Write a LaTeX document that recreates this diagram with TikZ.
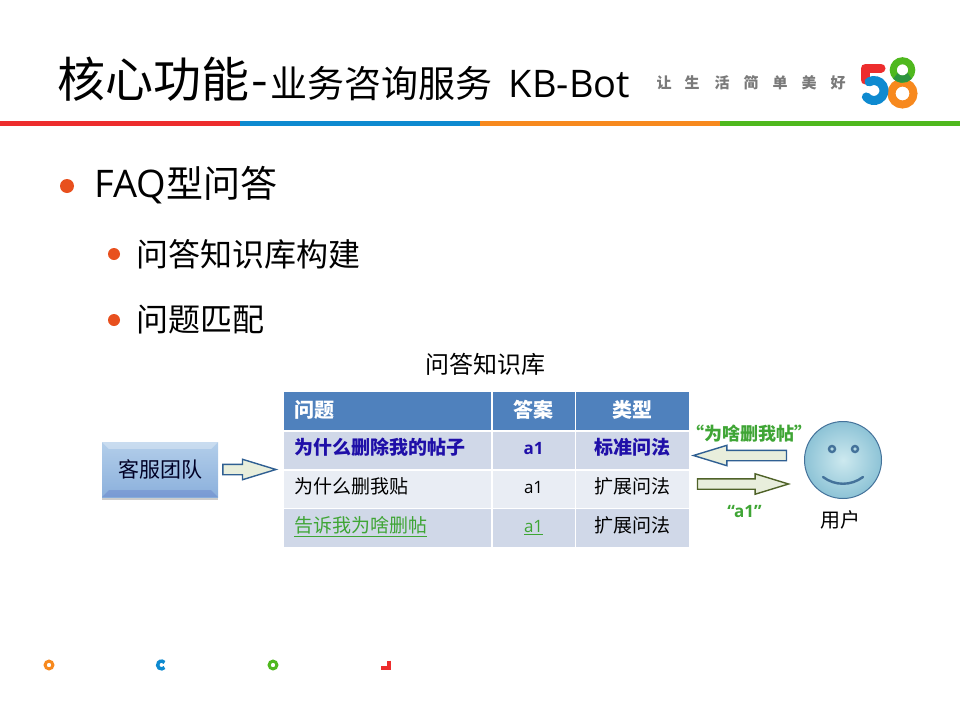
\documentclass[tikz,border=0pt]{standalone}
\usepackage{fontspec}
\setmainfont{Open Sans}
\newfontfamily\cjk{Noto Sans CJK SC}
\usepackage{tikz}
\usetikzlibrary{shapes, arrows, positioning, shadows}
\definecolor{lineRed}{HTML}{ED2D2D}
\definecolor{lineBlue}{HTML}{0E8AD0}
\definecolor{lineOrange}{HTML}{F7891E}
\definecolor{lineGreen}{HTML}{4FB81E}
\definecolor{lineDeep}{HTML}{2E9440}
\definecolor{dotRed}{HTML}{E8501E}
\definecolor{headBlue}{HTML}{4F81BD}
\definecolor{rowDark}{HTML}{D0D8E8}
\definecolor{rowLight}{HTML}{E9EDF4}
\definecolor{textNavy}{HTML}{1F0FA8}
\definecolor{textGreen}{HTML}{3FA535}
\definecolor{boxTop}{HTML}{B3CEEA}
\definecolor{boxBottom}{HTML}{8BB0DC}
\definecolor{faceIn}{HTML}{CDE9EF}
\definecolor{faceOut}{HTML}{8DC3D6}
\definecolor{faceLine}{HTML}{44729A}
\definecolor{arrowFill}{HTML}{E8EEDC}
\definecolor{arrowBlue}{HTML}{2F5F92}
\definecolor{arrowOlive}{HTML}{4F6228}
\newcommand{\fsize}[1]{\fontsize{#1}{#1}\selectfont}

\begin{document}
\begin{tikzpicture}[
    x=1pt, y=-1pt,
    heading/.style={anchor=west, inner sep=0pt, text=black},
    bulletdot/.style={circle, fill=dotRed, inner sep=0pt, minimum size=#1},
    slogan/.style={text=black!52, inner sep=0pt, font=\cjk\bfseries\fsize{15}},
    cell/.style={rectangle, inner sep=0pt, minimum height=37.5pt, text height=15pt, text depth=6pt, fill=rowDark, font=\cjk\fsize{19}},
    qcell/.style={cell, text width=187pt, inner xsep=10pt, align=left},
    acell/.style={cell, minimum width=82pt},
    tcell/.style={cell, minimum width=113pt},
    headcell/.style={fill=headBlue, text=white, minimum height=38pt, text height=17pt, text depth=5pt, font=\cjk\bfseries\fsize{20}},
    blockarrow/.style={single arrow, single arrow tip angle=34, single arrow head extend=5pt, single arrow head indent=0pt, inner xsep=0pt, inner ysep=4.5pt, minimum width=19pt, line width=1.4pt, fill=arrowFill},
    quote/.style={text=textGreen, inner sep=0pt, font=\cjk\bfseries\fsize{18}}
]
\useasboundingbox (0,0) rectangle (960,720);

% title and rule
\node[heading] (title) at (57,79) {\cjk\fsize{48}核心功能\hspace{2pt}-\hspace{3pt}\fsize{37}业务咨询服务\hspace{16pt}{\rmfamily\fsize{38}KB-Bot}};
\foreach \col/\xa in {lineRed/0, lineBlue/240, lineOrange/480, lineGreen/720}
    \fill[\col] (\xa,120.5) rectangle ++(240,5);

% slogan
\foreach \ch/\xa in {让/664, 生/692, 活/722, 简/751, 单/780, 美/809, 好/838}
    \node[slogan] at (\xa,83) {\ch};

% logo
\draw[lineRed, line width=9pt, line cap=round, line join=round] (881,68) -- (865,68) -- (865,80);
\draw[lineOrange, line width=8pt] (902.5,93.5) circle (11);
\draw[lineBlue, line width=9pt, line cap=round] (869,81.84) arc (-120:140:10);
\draw[lineGreen, line width=7pt] (902.5,70) circle (9.25);
\draw[lineDeep, line width=7pt] (909.6,75.9) arc (40:140:9.25);

% bullets
\node[bulletdot=14pt] (dotA) at (67,186) {};
\node[heading, right=20pt of dotA, yshift=1pt] (faq) {\fsize{38}FAQ{\cjk\fsize{37}型问答}};
\node[bulletdot=12pt] (dotB) at (114,254) {};
\node[heading, right=16pt of dotB] (build) {\cjk\fsize{32}问答知识库构建};
\node[bulletdot=12pt] (dotC) at (114,320) {};
\node[heading, right=16pt of dotC] (match) {\cjk\fsize{32}问题匹配};

% table
\node[qcell, headcell, anchor=north west] (qhead) at (284,392) {问题};
\node[acell, headcell, right=1pt of qhead] (ahead) {答案};
\node[tcell, headcell, right=1pt of ahead] (thead) {类型};

\node[qcell, below=1pt of qhead, text=textNavy, font=\cjk\bfseries\fsize{19}] (qone) {为什么删除我的帖子};
\node[acell, below=1pt of ahead, text=textNavy, font=\bfseries\fsize{17}] (aone) {a1};
\node[tcell, below=1pt of thead, text=textNavy, font=\cjk\bfseries\fsize{19}] (tone) {标准问法};

\node[qcell, below=1pt of qone, fill=rowLight] (qtwo) {为什么删我贴};
\node[acell, below=1pt of aone, fill=rowLight, font=\fsize{17}] (atwo) {a1};
\node[tcell, below=1pt of tone, fill=rowLight] (ttwo) {扩展问法};

\node[qcell, below=1pt of qtwo, text=textGreen] (qthree) {\underline{告诉我为啥删帖}};
\node[acell, below=1pt of atwo, text=textGreen, font=\fsize{17}] (athree) {\underline{a1}};
\node[tcell, below=1pt of ttwo] (tthree) {扩展问法};

\node[above=16pt of qhead.north east, xshift=-6pt, inner sep=0pt, font=\cjk\fsize{24}] (kbname) {问答知识库};

% service team
\node[rectangle, minimum width=116pt, minimum height=55pt, top color=boxTop, bottom color=boxBottom, inner sep=0pt, drop shadow={opacity=0.4, shadow xshift=0pt, shadow yshift=-2.5pt}, text=black!85!blue, font=\cjk\fsize{21}] (team) at (160,469.5) {客服团队};
\fill[white, opacity=0.3] (team.north west) -- (team.north east) -- ([shift={(-7pt,-7pt)}]team.north east) -- ([shift={(7pt,-7pt)}]team.north west) -- cycle;
\fill[blue!60!black, opacity=0.12] (team.south west) -- (team.south east) -- ([shift={(-7pt,7pt)}]team.south east) -- ([shift={(7pt,7pt)}]team.south west) -- cycle;
\node[blockarrow, right=4pt of team, minimum height=53pt, draw=arrowBlue] (teamarrow) {};

% user
\node[circle, minimum size=77pt, inner sep=0pt, draw=faceLine, line width=1pt, inner color=faceIn, outer color=faceOut] (face) at (843,460) {};
\draw[faceLine, line width=2.4pt] (832,449) circle (3) (855,449) circle (3);
\draw[faceLine, line width=2.4pt, line cap=round] (823,477) .. controls (835,486) and (851,486) .. (863,477);
\node[below=11pt of face, xshift=-3pt, inner sep=0pt, font=\cjk\fsize{20}] (user) {用户};

\node[blockarrow, shape border rotate=180, minimum height=93pt, draw=arrowBlue] (askarrow) at (748.5,455.5) {};
\node[blockarrow, minimum height=91pt, draw=arrowOlive] (replyarrow) at (734.5,484) {};
\node[quote, above=7pt of askarrow, xshift=0.5pt] (askquote) {“为啥删我帖”};
\node[quote, below=15pt of replyarrow, xshift=10pt, font=\bfseries\fsize{17}] (replyquote) {“a1”};

% footer marks
\draw[lineOrange, line width=3pt] (49,665) circle (3.9);
\draw[lineBlue, line width=3.4pt] (164.5,667.5) arc (40:320:3.9);
\draw[lineGreen, line width=3pt] (273,665) circle (3.9);
\draw[lineRed, line width=3.5pt] (389,660.5) -- (389,668) -- (381,668);
\end{tikzpicture}
\end{document}
